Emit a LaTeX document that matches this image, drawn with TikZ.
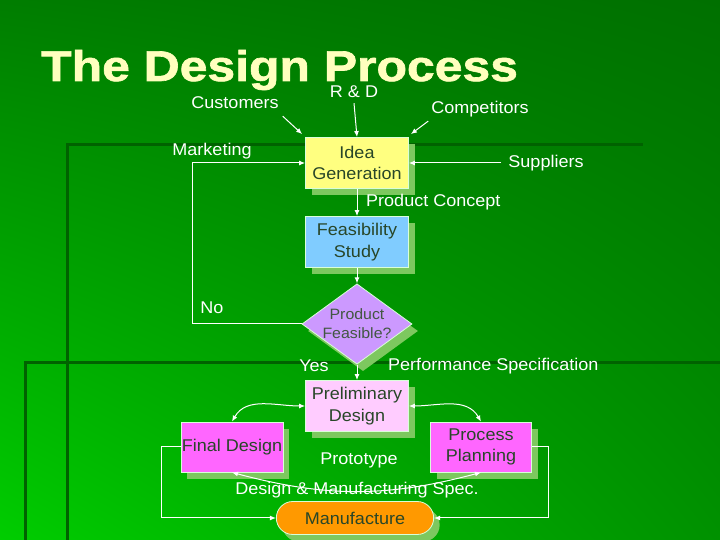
\documentclass[tikz,border=0pt]{standalone}
\usepackage{fontspec}
\setmainfont{Liberation Sans}[FakeStretch=1.06]
\newfontfamily\titlefont{Liberation Sans Bold}[FakeStretch=1.16, FakeBold=1.5]
\usetikzlibrary{shapes.geometric,shapes.misc,shadows,shadings,arrows.meta}

\definecolor{titleyellow}{RGB}{255,255,190}
\definecolor{shadowgreen}{RGB}{125,200,95}
\definecolor{boxtext}{RGB}{40,70,40}
\definecolor{ideayellow}{RGB}{255,255,128}
\definecolor{feasblue}{RGB}{128,204,255}
\definecolor{lilac}{RGB}{204,153,255}
\definecolor{palepink}{RGB}{255,204,255}
\definecolor{magentabox}{RGB}{255,102,255}
\definecolor{mforange}{RGB}{255,153,0}
\definecolor{bandgreen}{RGB}{0,98,0}
\definecolor{bgul}{RGB}{0,125,0}
\definecolor{bgur}{RGB}{0,112,0}
\definecolor{bgll}{RGB}{0,205,0}
\definecolor{bglr}{RGB}{0,145,0}

\begin{document}
\begin{tikzpicture}
[x=1pt, y=1pt,
box/.style={rectangle, draw=white!85!green, line width=0.8pt, minimum width=103pt, minimum height=51pt, inner sep=1pt, align=center, text=boxtext, font=\fontsize{17}{21.5}\selectfont, drop shadow={shadow xshift=6pt, shadow yshift=-7pt, fill=shadowgreen, opacity=1}},
lbl/.style={text=white, font=\fontsize{17}{20}\selectfont, inner sep=1pt},
link/.style={draw=white, line width=1pt, -{Latex[length=6pt,width=5pt]}},
both/.style={draw=white, line width=1pt, {Latex[length=6pt,width=5pt]}-{Latex[length=6pt,width=5pt]}}]

\useasboundingbox (0,0) rectangle (720,540);
\shade[upper left=bgul, upper right=bgur, lower left=bgll, lower right=bglr] (0,0) rectangle (720,540);
% template bands
\draw[bandgreen, line width=3pt] (67,0) -- (67,395) -- (643,395);
\draw[bandgreen, line width=3pt] (25,0) -- (25,177) -- (720,177);

\node[anchor=base west, text=titleyellow, font=\fontsize{43}{46}\selectfont\titlefont, inner sep=0pt] (title) at(41,459) {The Design Process};

\node[lbl] (rd) at(354,448) {R \& D};
\node[lbl] (customers) at(235,437) {Customers};
\node[lbl] (competitors) at(480,431) {Competitors};
\node[lbl] (marketing) at(212,389) {Marketing};
\node[lbl] (suppliers) at(546,377) {Suppliers};

\node[box, fill=ideayellow] (idea) at(357,377) {Idea\\Generation};
\node[box, fill=feasblue] (feas) at(357,298) {Feasibility\\Study};
\node[diamond, aspect=1.37, minimum width=107pt, minimum height=78pt, inner sep=0pt, draw=white!85!green, line width=0.8pt, fill=lilac,
	text=boxtext!70!gray, align=center, font=\fontsize{15}{19}\selectfont,
	drop shadow={shadow xshift=6pt, shadow yshift=-7pt, fill=shadowgreen, opacity=1}] (feasible) at(357,216) {Product\\Feasible?};
\node[box, fill=palepink] (prelim) at(357,134) {Preliminary\\Design};
\node[box, fill=magentabox, minimum width=101pt, minimum height=50pt] (final) at(232,93) {Final Design};
\node[box, fill=magentabox, minimum width=101pt, minimum height=50pt] (process) at(481,93) {Process\\Planning};
\node[rounded rectangle, minimum width=164pt, minimum height=33pt, draw=white!85!green, line width=0.8pt, fill=mforange,
	text=boxtext, font=\fontsize{17}{20}\selectfont,
	drop shadow={shadow xshift=6pt, shadow yshift=-7pt, fill=shadowgreen, opacity=1}] (manufacture) at(355,22) {Manufacture};

\node[lbl, anchor=west] (concept) at(365,338) {Product Concept};
\node[lbl] (no) at(212,232) {No};
\node[lbl] (yes) at(314,174) {Yes};
\node[lbl, anchor=west] (perf) at(387,174) {Performance Specification};
\node[lbl] (prototype) at(359,80) {Prototype};

\draw[link] ([xshift=3pt,yshift=-6pt]customers.south east) -- ([xshift=-3pt,yshift=3pt]idea.north west);
\draw[link] ([yshift=-4pt]rd.south) -- (idea.north);
\draw[link] ([xshift=-2pt,yshift=-3pt]competitors.south west) -- ([xshift=2pt,yshift=3pt]idea.north east);
\draw[link] ([xshift=-6pt]suppliers.west) -- (idea.east);
\draw[link] (feasible.west) -- (192,216) |- (idea.west);
\draw[link] (idea) -- (feas);
\draw[link] (feas) -- (feasible);
\draw[link] (feasible) -- (prelim);

\draw[both] (final.north) to[out=60, in=180] (prelim.west);
\draw[both] (prelim.east) to[out=0, in=120] (process.north);
\draw[both] (final.south) to[bend right=15] (process.south);
\node[lbl] (spec) at(357,50) {Design \& Manufacturing Spec.};

\draw[link] (final.west) -- ++(-19,0) |- (manufacture.west);
\draw[link] (process.east) -- ++(17,0) |- (manufacture.east);
\end{tikzpicture}
\end{document}
